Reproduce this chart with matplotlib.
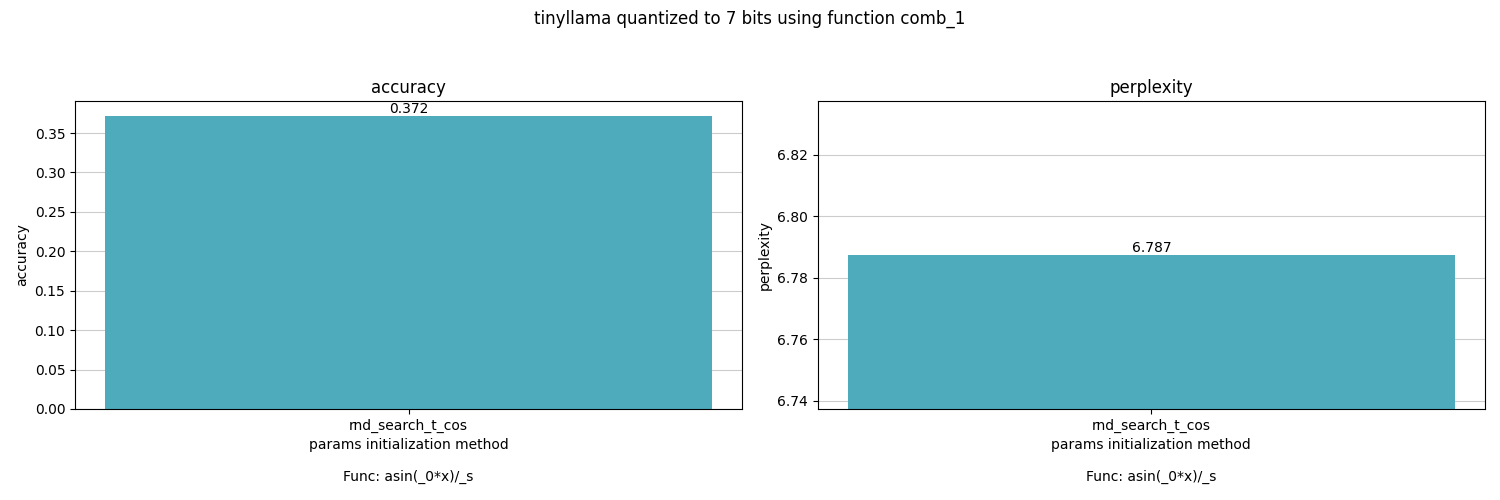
import matplotlib.pyplot as plt

# data
metodos = ['rnd_search_t_cos']
metricas = ['accuracy', 'perplexity']
valores = {'accuracy': [0.372], 'perplexity': [6.7874]}
func_txt = 'Func: asin(_0*x)/_s'
cor = '#4eabbc'

fig, axes = plt.subplots(1, 2, figsize=(15, 5), dpi=100)
fig.subplots_adjust(left=0.05, right=0.99, bottom=0.182, top=0.798, wspace=0.113)
fig.suptitle('tinyllama quantized to 7 bits using function comb_1')

for ax, m in zip(axes, metricas):
    vals = valores[m]
    barras = ax.bar(metodos, vals, color=cor, zorder=2)
    ax.bar_label(barras, labels=[f'{v:.3f}' for v in vals])
    ax.set_title(m)
    ax.set_ylabel(m)
    ax.set_xlabel('params initialization method')
    ax.yaxis.grid(True, color='#cccccc', zorder=0)
    ax.set_axisbelow(True)
    ax.text(0.5, -0.22, func_txt, transform=ax.transAxes, ha='center', va='center')

# perplexity em faixa estreita
v = valores['perplexity'][0]
axes[1].set_ylim(v - 0.05, v + 0.05)

plt.savefig('out.png')
